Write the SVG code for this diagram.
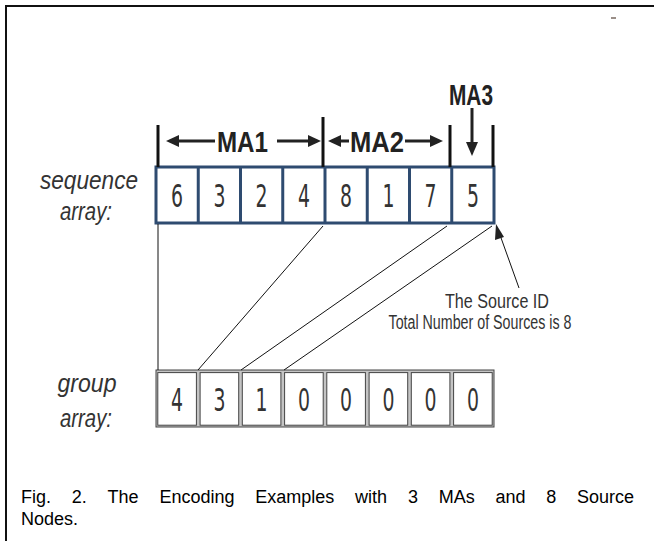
<svg xmlns="http://www.w3.org/2000/svg" width="654" height="541" viewBox="0 0 654 541">
  <style>
    .frame { stroke: #111; stroke-width: 2; fill: none; }
    .seqcell { fill: #fff; stroke: #2e4b70; stroke-width: 3; }
    .seqdiv { stroke: #2e4b70; stroke-width: 3; }
    .grpouter { fill: #c4c4c4; stroke: #444; stroke-width: 1; }
    .grpcell { fill: #fff; stroke: #444; stroke-width: 1; }
    .digit { font-family: "DejaVu Sans", sans-serif; font-size: 32px; fill: #333; text-anchor: middle; }
    .lbl { font-family: "Liberation Sans", Arial, sans-serif; font-style: italic; font-size: 26px; fill: #333; text-anchor: middle; }
    .ma { font-family: "Liberation Sans", Arial, sans-serif; font-weight: bold; font-size: 29px; fill: #222; text-anchor: middle; }
    .tick { stroke: #111; stroke-width: 3; }
    .dim { stroke: #222; stroke-width: 3; fill: none; }
    .head { fill: #222; }
    .link { stroke: #111; stroke-width: 1; fill: none; }
    .note { font-family: "Liberation Sans", Arial, sans-serif; font-size: 20px; fill: #333; text-anchor: middle; }
    .cap { font-family: "Liberation Sans", Arial, sans-serif; font-size: 18px; fill: #000; }
  </style>

  <!-- page frame (top and left rules) -->
  <g id="frame">
    <line class="frame" x1="6" y1="6" x2="654" y2="6"/>
    <line class="frame" x1="6" y1="5" x2="6" y2="541"/>
    <rect x="611" y="17" width="5" height="2" fill="#9a8f88"/>
  </g>

  <!-- row labels -->
  <g id="label-sequence">
    <text class="lbl" x="89" y="189" textLength="98" lengthAdjust="spacingAndGlyphs">sequence</text>
    <text class="lbl" x="86" y="220" textLength="52" lengthAdjust="spacingAndGlyphs">array:</text>
  </g>
  <g id="label-group">
    <text class="lbl" x="87" y="392" textLength="59" lengthAdjust="spacingAndGlyphs">group</text>
    <text class="lbl" x="86" y="427" textLength="52" lengthAdjust="spacingAndGlyphs">array:</text>
  </g>

  <!-- sequence array -->
  <g id="sequence-array">
    <rect class="seqcell" x="156" y="167" width="338" height="56"/>
    <line class="seqdiv" x1="198.25" y1="167" x2="198.25" y2="223"/>
    <line class="seqdiv" x1="240.5" y1="167" x2="240.5" y2="223"/>
    <line class="seqdiv" x1="282.75" y1="167" x2="282.75" y2="223"/>
    <line class="seqdiv" x1="325" y1="167" x2="325" y2="223"/>
    <line class="seqdiv" x1="367.25" y1="167" x2="367.25" y2="223"/>
    <line class="seqdiv" x1="409.5" y1="167" x2="409.5" y2="223"/>
    <line class="seqdiv" x1="451.75" y1="167" x2="451.75" y2="223"/>
    <text class="digit" x="177.1" y="207" textLength="12" lengthAdjust="spacingAndGlyphs">6</text>
    <text class="digit" x="219.4" y="207" textLength="12" lengthAdjust="spacingAndGlyphs">3</text>
    <text class="digit" x="261.6" y="207" textLength="12" lengthAdjust="spacingAndGlyphs">2</text>
    <text class="digit" x="303.9" y="207" textLength="12" lengthAdjust="spacingAndGlyphs">4</text>
    <text class="digit" x="346.1" y="207" textLength="12" lengthAdjust="spacingAndGlyphs">8</text>
    <text class="digit" x="388.4" y="207" textLength="12" lengthAdjust="spacingAndGlyphs">1</text>
    <text class="digit" x="430.6" y="207" textLength="12" lengthAdjust="spacingAndGlyphs">7</text>
    <text class="digit" x="472.9" y="207" textLength="12" lengthAdjust="spacingAndGlyphs">5</text>
  </g>

  <!-- group array -->
  <g id="group-array">
    <rect class="grpouter" x="156" y="370" width="338" height="57"/>
    <rect class="grpcell" x="157.8" y="372.6" width="38.6" height="52.6"/>
    <rect class="grpcell" x="200.1" y="372.6" width="38.6" height="52.6"/>
    <rect class="grpcell" x="242.3" y="372.6" width="38.6" height="52.6"/>
    <rect class="grpcell" x="284.6" y="372.6" width="38.6" height="52.6"/>
    <rect class="grpcell" x="326.8" y="372.6" width="38.6" height="52.6"/>
    <rect class="grpcell" x="369.1" y="372.6" width="38.6" height="52.6"/>
    <rect class="grpcell" x="411.3" y="372.6" width="38.6" height="52.6"/>
    <rect class="grpcell" x="453.6" y="372.6" width="38.6" height="52.6"/>
    <text class="digit" x="177.1" y="411" textLength="12" lengthAdjust="spacingAndGlyphs">4</text>
    <text class="digit" x="219.4" y="411" textLength="12" lengthAdjust="spacingAndGlyphs">3</text>
    <text class="digit" x="261.6" y="411" textLength="12" lengthAdjust="spacingAndGlyphs">1</text>
    <text class="digit" x="303.9" y="411" textLength="12" lengthAdjust="spacingAndGlyphs">0</text>
    <text class="digit" x="346.1" y="411" textLength="12" lengthAdjust="spacingAndGlyphs">0</text>
    <text class="digit" x="388.4" y="411" textLength="12" lengthAdjust="spacingAndGlyphs">0</text>
    <text class="digit" x="430.6" y="411" textLength="12" lengthAdjust="spacingAndGlyphs">0</text>
    <text class="digit" x="472.9" y="411" textLength="12" lengthAdjust="spacingAndGlyphs">0</text>
  </g>

  <!-- MA span markers -->
  <g id="ma-spans">
    <line class="tick" x1="158" y1="125" x2="158" y2="167"/>
    <line class="tick" x1="323" y1="117" x2="323" y2="167"/>
    <line class="tick" x1="450" y1="125" x2="450" y2="167"/>
    <line class="tick" x1="493" y1="125" x2="493" y2="167"/>
  </g>
  <g id="ma1">
    <line class="dim" x1="176" y1="141" x2="215" y2="141"/>
    <polygon class="head" points="166,141 179,135 179,147"/>
    <text class="ma" x="242.5" y="152" textLength="51" lengthAdjust="spacingAndGlyphs">MA1</text>
    <line class="dim" x1="277" y1="141" x2="311" y2="141"/>
    <polygon class="head" points="321,141 308,135 308,147"/>
  </g>
  <g id="ma2">
    <line class="dim" x1="337" y1="141" x2="349" y2="141"/>
    <polygon class="head" points="328,141 341,135 341,147"/>
    <text class="ma" x="377" y="152" textLength="54" lengthAdjust="spacingAndGlyphs">MA2</text>
    <line class="dim" x1="405" y1="141" x2="433" y2="141"/>
    <polygon class="head" points="443,141 430,135 430,147"/>
  </g>
  <g id="ma3">
    <text class="ma" x="471" y="105" textLength="44" lengthAdjust="spacingAndGlyphs">MA3</text>
    <line class="dim" x1="472" y1="108" x2="472" y2="145"/>
    <polygon class="head" points="472,156 466,142 478,142"/>
  </g>

  <!-- links from sequence boundaries to group cells -->
  <g id="connectors">
    <line class="link" x1="158" y1="224" x2="158" y2="370"/>
    <line class="link" x1="323" y1="226" x2="198" y2="370"/>
    <line class="link" x1="447" y1="226" x2="241" y2="370"/>
    <line class="link" x1="492" y1="226" x2="284" y2="370"/>
    <line class="link" x1="519" y1="288" x2="500" y2="235"/>
    <polygon class="head" points="496,224 504,237 495,240"/>
  </g>

  <!-- annotation -->
  <g id="note">
    <text class="note" x="497" y="308" textLength="104" lengthAdjust="spacingAndGlyphs">The Source ID</text>
    <text class="note" x="480" y="329" textLength="183" lengthAdjust="spacingAndGlyphs">Total Number of Sources is 8</text>
  </g>

  <!-- caption, justified across the column -->
  <g id="caption">
    <text class="cap" y="503">
      <tspan x="21">Fig.</tspan>
      <tspan x="71.8">2.</tspan>
      <tspan x="107.6">The</tspan>
      <tspan x="159.5">Encoding</tspan>
      <tspan x="255.3">Examples</tspan>
      <tspan x="355.1">with</tspan>
      <tspan x="407.9">3</tspan>
      <tspan x="438.7">MAs</tspan>
      <tspan x="495.5">and</tspan>
      <tspan x="546.3">8</tspan>
      <tspan x="577.1">Source</tspan>
    </text>
    <text class="cap" x="21" y="525">Nodes.</text>
  </g>
</svg>
